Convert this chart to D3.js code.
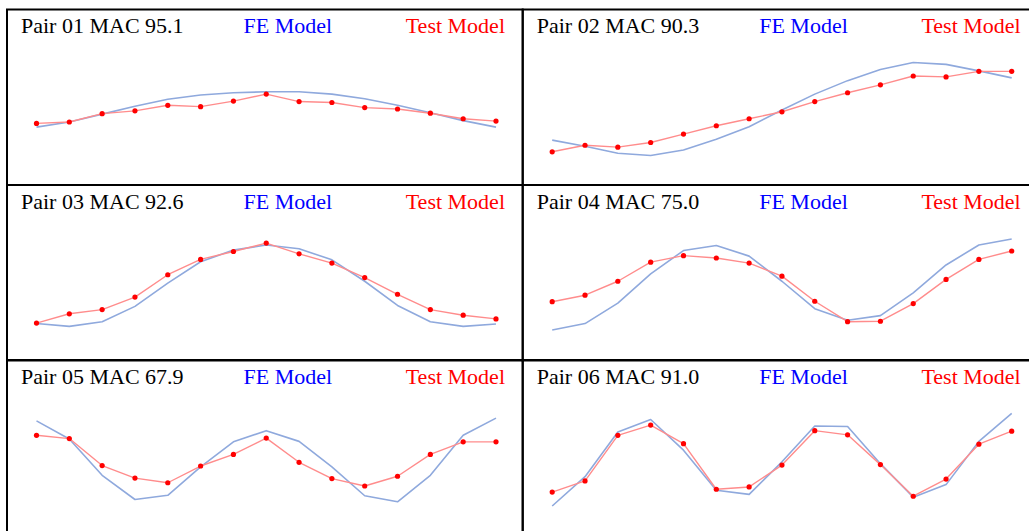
<!DOCTYPE html>
<html>
<head>
<meta charset="utf-8">
<script src="https://cdn.jsdelivr.net/npm/d3@7"></script>
<style>
  html, body { margin: 0; padding: 0; background: #fff; }
  svg { display: block; }
  svg text { font-family: "Liberation Serif", "Times New Roman", Times, serif; font-size: 22px; }
</style>
</head>
<body>
<svg id="chart" width="1029" height="531"></svg>
<script>
// Mode shape comparison: FE model vs. test model, 15 measurement points per pair
const pairLabels = ["Pair 01", "Pair 02", "Pair 03", "Pair 04", "Pair 05", "Pair 06"];
const macValues = [95.1, 90.3, 92.6, 75.0, 67.9, 91.0];
const pointIndex = d3.range(15);

const feShapes = [
  [-0.39, -0.28, -0.11, 0.06, 0.21, 0.30, 0.35, 0.37, 0.37, 0.32, 0.22, 0.08, -0.08, -0.25, -0.39],
  [-0.67, -0.80, -0.95, -1.00, -0.88, -0.65, -0.38, -0.02, 0.32, 0.61, 0.85, 1.00, 0.96, 0.82, 0.67],
  [-0.84, -0.90, -0.80, -0.47, 0.03, 0.49, 0.74, 0.85, 0.77, 0.53, 0.07, -0.45, -0.80, -0.90, -0.85],
  [-0.98, -0.84, -0.40, 0.23, 0.73, 0.84, 0.61, 0.07, -0.52, -0.77, -0.67, -0.18, 0.42, 0.85, 0.98],
  [0.83, 0.44, -0.34, -0.86, -0.77, -0.16, 0.38, 0.62, 0.39, -0.16, -0.78, -0.91, -0.34, 0.52, 0.89],
  [-1.00, -0.37, 0.59, 0.86, 0.20, -0.66, -0.75, -0.05, 0.72, 0.71, -0.09, -0.81, -0.54, 0.39, 0.99]
];

const testShapes = [
  [-0.31, -0.28, -0.10, -0.04, 0.08, 0.05, 0.17, 0.32, 0.16, 0.14, 0.03, 0.00, -0.09, -0.21, -0.26],
  [-0.92, -0.78, -0.82, -0.72, -0.54, -0.36, -0.21, -0.06, 0.16, 0.35, 0.52, 0.71, 0.69, 0.81, 0.81],
  [-0.83, -0.63, -0.54, -0.27, 0.21, 0.54, 0.71, 0.89, 0.66, 0.46, 0.15, -0.21, -0.54, -0.66, -0.74],
  [-0.37, -0.23, 0.07, 0.48, 0.62, 0.57, 0.46, 0.18, -0.36, -0.80, -0.79, -0.41, 0.11, 0.54, 0.72],
  [0.52, 0.45, -0.13, -0.40, -0.50, -0.14, 0.11, 0.46, -0.06, -0.41, -0.57, -0.36, 0.11, 0.38, 0.38],
  [-0.70, -0.46, 0.52, 0.74, 0.34, -0.64, -0.59, -0.12, 0.62, 0.53, -0.11, -0.79, -0.42, 0.33, 0.61]
];

const legendLabels = ["FE Model", "Test Model"];

// Grid geometry
const gridLeft = 7;
const cellW = 515.7;
const rowTops = [9.5, 185, 360];
const cellH = 175.5;

const svg = d3.select("#chart");

const x = d3.scaleLinear().domain([0, 14]).range([29.5, 489]);
const y = d3.scaleLinear().domain([-1, 1]).range([146, 53]);

const line = d3.line()
  .x((d, i) => x(pointIndex[i]))
  .y(d => y(d));

pairLabels.forEach((label, k) => {
  const col = k % 2, row = Math.floor(k / 2);
  const g = svg.append("g")
    .attr("transform", `translate(${gridLeft + col * cellW},${rowTops[row]})`);

  // FE model shape
  g.append("path")
    .datum(feShapes[k])
    .attr("d", line)
    .attr("fill", "none")
    .attr("stroke", "#8fa9dd")
    .attr("stroke-width", 1.6)
    .attr("stroke-linejoin", "round");

  // Test model shape
  g.append("path")
    .datum(testShapes[k])
    .attr("d", line)
    .attr("fill", "none")
    .attr("stroke", "#ff8c8c")
    .attr("stroke-width", 1.4)
    .attr("stroke-linejoin", "round");

  g.selectAll("circle")
    .data(testShapes[k])
    .join("circle")
    .attr("cx", (d, i) => x(pointIndex[i]))
    .attr("cy", d => y(d))
    .attr("r", 2.6)
    .attr("fill", "#ff0000");

  // Labels
  g.append("text")
    .attr("x", 14)
    .attr("y", 23.5)
    .attr("fill", "#000")
    .text(`${label} MAC ${macValues[k].toFixed(1)}`);

  g.append("text")
    .attr("x", 236.5)
    .attr("y", 23.5)
    .attr("fill", "#0000ff")
    .text(legendLabels[0]);

  g.append("text")
    .attr("x", 498)
    .attr("y", 23.5)
    .attr("text-anchor", "end")
    .attr("fill", "#ff0000")
    .text(legendLabels[1]);

  // Cell border
  g.append("rect")
    .attr("x", 0)
    .attr("y", 0)
    .attr("width", cellW)
    .attr("height", cellH)
    .attr("fill", "none")
    .attr("stroke", "#000")
    .attr("stroke-width", 2);
});
</script>
</body>
</html>
